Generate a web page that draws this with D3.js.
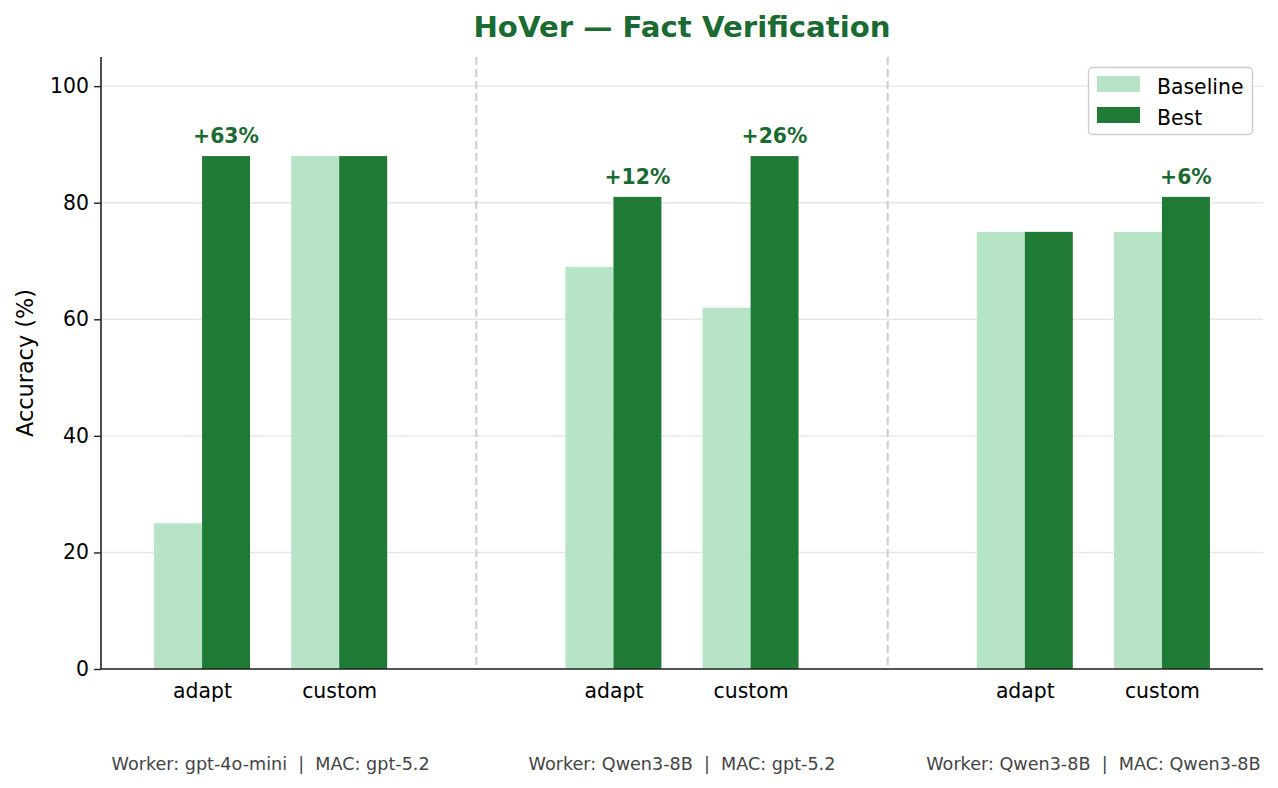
<!DOCTYPE html>
<html>
<head>
<meta charset="utf-8">
<script src="https://cdn.jsdelivr.net/npm/d3@7"></script>
<style>
  body { margin: 0; background: #fff; }
  svg { font-family: "DejaVu Sans", sans-serif; }
  .pre { white-space: pre; }
</style>
</head>
<body>
<svg id="chart" width="1278" height="788"></svg>
<script>
// ---- data ----
const groups = ["Worker: gpt-4o-mini  |  MAC: gpt-5.2", "Worker: Qwen3-8B  |  MAC: gpt-5.2", "Worker: Qwen3-8B  |  MAC: Qwen3-8B"];
const methods = ["adapt", "custom"];
const baseline = [25, 88, 69, 62, 75, 75];
const best = [88, 88, 81, 88, 75, 81];
const gains = ["+63%", null, "+12%", "+26%", null, "+6%"];
const yTicks = [0, 20, 40, 60, 80, 100];
const seriesNames = ["Baseline", "Best"];

// ---- layout ----
const svg = d3.select("#chart");
const L = 101, R = 1263, T = 57, B = 669;
const colBase = "#b7e4c7", colBest = "#1f7a35", colTitle = "#1a6b32";

const items = [];
groups.forEach((g, gi) => methods.forEach((m, mi) => {
  items.push({ g: gi, m: mi, label: m, pos: gi * 3 + mi });
}));
items.forEach((d, i) => { d.base = baseline[i]; d.best = best[i]; d.gain = gains[i]; });

const x = d3.scaleLinear().domain([-0.737, 7.737]).range([L, R]);
const y = d3.scaleLinear().domain([0, 105]).range([B, T]);
const bw = 0.35;

// grid
svg.append("g").selectAll("line").data(yTicks).join("line")
  .attr("x1", L).attr("x2", R)
  .attr("y1", d => y(d)).attr("y2", d => y(d))
  .attr("stroke", "#e6e6e6").attr("stroke-width", 1.4);

// separators
svg.append("g").selectAll("line").data([2, 5]).join("line")
  .attr("x1", d => x(d)).attr("x2", d => x(d))
  .attr("y1", T).attr("y2", B)
  .attr("stroke", "#cccccc").attr("stroke-width", 2)
  .attr("stroke-dasharray", "8,4");

// bars
const bars = svg.append("g");
bars.selectAll("rect.base").data(items).join("rect").attr("class", "base")
  .attr("x", d => x(d.pos - bw)).attr("width", d => x(d.pos) - x(d.pos - bw))
  .attr("y", d => y(d.base)).attr("height", d => y(0) - y(d.base))
  .attr("fill", colBase);
bars.selectAll("rect.best").data(items).join("rect").attr("class", "best")
  .attr("x", d => x(d.pos)).attr("width", d => x(d.pos + bw) - x(d.pos))
  .attr("y", d => y(d.best)).attr("height", d => y(0) - y(d.best))
  .attr("fill", colBest);

// gain labels
svg.append("g").selectAll("text").data(items.filter(d => d.gain)).join("text")
  .attr("x", d => x(d.pos + bw / 2)).attr("y", d => y(d.best + 2) - 1.5)
  .attr("text-anchor", "middle").attr("font-weight", "bold")
  .attr("font-size", 20.4).attr("fill", colTitle)
  .text(d => d.gain);

// y axis
const yAxis = svg.append("g").attr("transform", `translate(${L},0)`)
  .call(d3.axisLeft(y).tickValues(yTicks).tickSize(7).tickPadding(5));
yAxis.select(".domain").remove();
yAxis.selectAll("line").attr("stroke", "#222").attr("stroke-width", 1.4);
yAxis.selectAll("text").attr("font-size", 20.4).attr("fill", "#000")
  .attr("font-family", "DejaVu Sans");

// x axis
const xAxis = svg.append("g").attr("transform", `translate(0,${B})`)
  .call(d3.axisBottom(x).tickValues(items.map(d => d.pos)).tickSize(0).tickPadding(15)
    .tickFormat((v, i) => items[i].label));
xAxis.select(".domain").remove();
xAxis.selectAll("text").attr("font-size", 20.4).attr("fill", "#000")
  .attr("font-family", "DejaVu Sans");

// spines
svg.append("line").attr("x1", L).attr("x2", L).attr("y1", T).attr("y2", B)
  .attr("stroke", "#222").attr("stroke-width", 1.6);
svg.append("line").attr("x1", L).attr("x2", R).attr("y1", B).attr("y2", B)
  .attr("stroke", "#222").attr("stroke-width", 1.6);

// group labels
svg.append("g").selectAll("text").data(groups).join("text")
  .attr("class", "pre").attr("xml:space", "preserve")
  .attr("x", (d, i) => x(i * 3 + 0.5)).attr("y", 770)
  .attr("text-anchor", "middle").attr("font-size", 17.6).attr("fill", "#444")
  .text(d => d);

// y label
svg.append("text").attr("transform", `translate(33,${(T + B) / 2}) rotate(-90)`)
  .attr("text-anchor", "middle").attr("font-size", 22.4).attr("fill", "#000")
  .text("Accuracy (%)");

// title
svg.append("text").attr("x", (L + R) / 2).attr("y", 37)
  .attr("text-anchor", "middle").attr("font-size", 29.2).attr("font-weight", "bold")
  .attr("fill", colTitle).text("HoVer — Fact Verification");

// legend
const lg = svg.append("g");
lg.append("rect").attr("x", 1088.5).attr("y", 67.5).attr("width", 164).attr("height", 67)
  .attr("rx", 4).attr("fill", "#fff").attr("fill-opacity", 0.8)
  .attr("stroke", "#cccccc").attr("stroke-width", 1.4);
const lcols = [colBase, colBest];
seriesNames.forEach((s, i) => {
  lg.append("rect").attr("x", 1097).attr("y", 76 + i * 31).attr("width", 43).attr("height", 16)
    .attr("fill", lcols[i]);
  lg.append("text").attr("x", 1157).attr("y", 93.5 + i * 31)
    .attr("font-size", 20.4).attr("fill", "#000").text(s);
});
</script>
</body>
</html>
